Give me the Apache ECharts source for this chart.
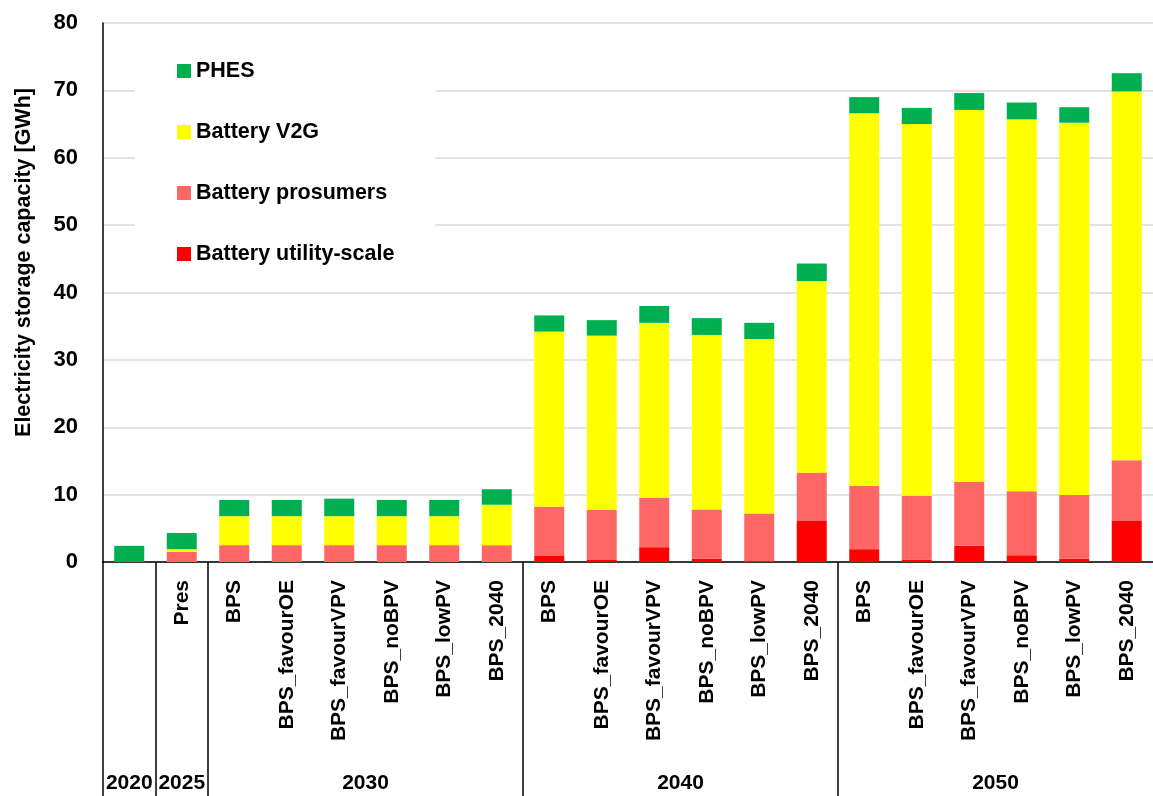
<!DOCTYPE html>
<html>
<head>
<meta charset="utf-8">
<script src="https://cdn.jsdelivr.net/npm/echarts@6/dist/echarts.min.js"></script>
<style>
  html, body { margin: 0; padding: 0; background: #fff; }
  #chart { width: 1153px; height: 796px; }
</style>
</head>
<body>
<div id="chart"></div>
<script>
// scenario labels (first bar, 2020, has none)
const categories = [
  '', 'Pres',
  'BPS', 'BPS_favourOE', 'BPS_favourVPV', 'BPS_noBPV', 'BPS_lowPV', 'BPS_2040',
  'BPS', 'BPS_favourOE', 'BPS_favourVPV', 'BPS_noBPV', 'BPS_lowPV', 'BPS_2040',
  'BPS', 'BPS_favourOE', 'BPS_favourVPV', 'BPS_noBPV', 'BPS_lowPV', 'BPS_2040'
];
// year groups and how many bars each one spans
const groupNames = ['2020', '2025', '2030', '2040', '2050'];
const groupSpans = [1, 1, 6, 6, 6];

// GWh, stacked from the bottom
const utilityScale = [0, 0, 0, 0, 0, 0, 0, 0,
  0.9, 0.3, 2.2, 0.5, 0.1, 6.1,
  1.9, 0.35, 2.4, 1.0, 0.5, 6.1];
const prosumers = [0, 1.5, 2.5, 2.5, 2.5, 2.5, 2.5, 2.5,
  7.3, 7.4, 7.3, 7.3, 7.1, 7.15,
  9.4, 9.5, 9.5, 9.5, 9.45, 9.0];
const v2g = [0, 0.4, 4.3, 4.3, 4.3, 4.3, 4.3, 6.0,
  26.0, 25.9, 26.0, 25.9, 25.9, 28.45,
  55.3, 55.15, 55.2, 55.2, 55.25, 54.75];
const phes = [2.4, 2.4, 2.4, 2.4, 2.6, 2.4, 2.4, 2.3,
  2.4, 2.3, 2.5, 2.5, 2.4, 2.6,
  2.4, 2.4, 2.5, 2.5, 2.3, 2.7];

const yTicks = { min: 0, max: 80, step: 10 };

const FONT = "'Liberation Sans', Arial, sans-serif";

// group boundaries and centres (in category units) for the year row
const bounds = [0];
groupSpans.forEach(s => bounds.push(bounds[bounds.length - 1] + s));
const centres = groupSpans.map((s, i) => bounds[i] + s / 2);

const chart = echarts.init(document.getElementById('chart'));

function bar(name, data, color) {
  return {
    name: name,
    type: 'bar',
    stack: 'storage',
    barWidth: 30,
    data: data,
    itemStyle: { color: color },
    emphasis: { disabled: true }
  };
}

chart.setOption({
  animation: false,
  textStyle: { fontFamily: FONT },
  grid: { left: 103, right: 0, top: 23, bottom: 234 },
  legend: {
    orient: 'vertical',
    left: 135,
    top: 30,
    padding: [27, 41, 24, 42],
    backgroundColor: '#fff',
    itemWidth: 14,
    itemHeight: 14,
    itemGap: 33,
    icon: 'rect',
    data: ['PHES', 'Battery V2G', 'Battery prosumers', 'Battery utility-scale'],
    textStyle: { fontFamily: FONT, fontSize: 21.5, fontWeight: 'bold', color: '#000', lineHeight: 28 }
  },
  xAxis: [{
    type: 'category',
    data: categories,
    axisLine: { lineStyle: { color: '#000', width: 1.5 } },
    axisTick: { show: false },
    axisLabel: {
      rotate: 90,
      margin: 18,
      interval: 0,
      fontFamily: FONT,
      fontSize: 21,
      fontWeight: 'bold',
      color: '#000'
    }
  }, {
    type: 'value',
    min: 0,
    max: categories.length,
    position: 'bottom',
    axisLine: { show: false },
    splitLine: { show: false },
    axisTick: {
      show: true,
      customValues: bounds.slice(0, -1),
      length: 234,
      lineStyle: { color: '#000', width: 1.5 }
    },
    axisLabel: {
      customValues: centres,
      hideOverlap: false,
      showMinLabel: true,
      showMaxLabel: true,
      formatter: function (v) {
        const i = centres.indexOf(v);
        return i >= 0 ? groupNames[i] : '';
      },
      margin: 211,
      fontFamily: FONT,
      fontSize: 21,
      fontWeight: 'bold',
      color: '#000'
    }
  }],
  yAxis: {
    type: 'value',
    min: yTicks.min,
    max: yTicks.max,
    interval: yTicks.step,
    name: 'Electricity storage capacity [GWh]',
    nameLocation: 'middle',
    nameGap: 68,
    nameTextStyle: {
      fontFamily: FONT,
      fontSize: 21.5,
      fontWeight: 'bold',
      color: '#000',
      padding: [0, 0, 0, 60]
    },
    axisLine: { show: true, lineStyle: { color: '#000', width: 1.5 } },
    axisTick: { show: false },
    axisLabel: {
      margin: 25,
      fontFamily: FONT,
      fontSize: 22,
      fontWeight: 'bold',
      color: '#000'
    },
    splitLine: { lineStyle: { color: '#d9d9d9', width: 1.5 } }
  },
  series: [
    bar('Battery utility-scale', utilityScale, '#ff0000'),
    bar('Battery prosumers', prosumers, '#ff6666'),
    bar('Battery V2G', v2g, '#ffff00'),
    bar('PHES', phes, '#00b050')
  ]
});
</script>
</body>
</html>
